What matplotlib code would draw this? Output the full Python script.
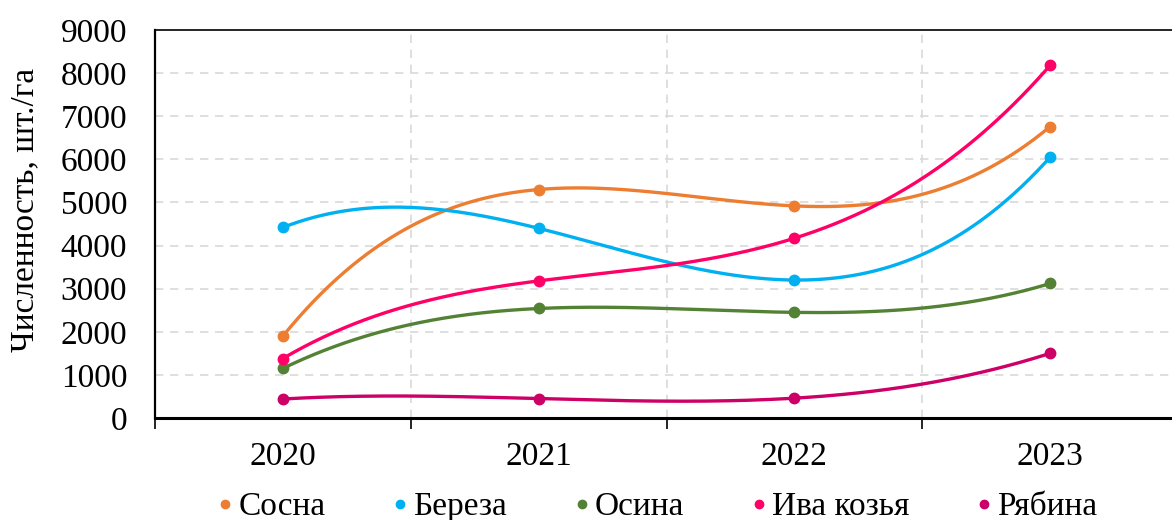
import numpy as np
from matplotlib import pyplot as plt
from matplotlib.lines import Line2D

plt.rcParams['font.family'] = ['Liberation Serif', 'DejaVu Serif']

years = ['2020', '2021', '2022', '2023']
names = ['Сосна', 'Береза', 'Осина', 'Ива козья', 'Рябина']
sosna = [1900, 5300, 4920, 6760]
bereza = [4420, 4400, 3200, 6050]
osina = [1150, 2540, 2450, 3120]
iva = [1380, 3180, 4170, 8180]
ryabina = [440, 450, 460, 1500]
series = [sosna, bereza, osina, iva, ryabina]
colors = ['#ED7D31', '#00B0F0', '#548235', '#FF0066', '#CC0066']

FS = 24

fig = plt.figure(figsize=(11.72, 5.2), dpi=100)
ax = fig.add_axes([155 / 1172, 102 / 520, 1023 / 1172, 388 / 520])

x = np.arange(len(years))
xs = np.linspace(0, len(years) - 1, 300)
for vals, c in zip(series, colors):
    # smooth curve through the points (cubic fit through 4 points)
    coef = np.polyfit(x, vals, 3)
    ax.plot(xs, np.polyval(coef, xs), color=c, lw=2.4, zorder=3)
    ax.plot(x, vals, 'o', color=c, ms=7.5, zorder=4)

ax.set_xlim(-0.5, 3.5)
ax.set_ylim(0, 9000)
ax.set_yticks(np.arange(0, 9001, 1000))
ax.tick_params(axis='y', length=0, pad=20, labelsize=FS)

ax.set_xticks(np.arange(-0.5, 3.6, 1))
ax.set_xticklabels([])
ax.set_xticks(x, minor=True)
ax.set_xticklabels(years, minor=True)
ax.tick_params(axis='x', which='major', length=8, width=1.2, direction='out')
ax.tick_params(axis='x', which='minor', length=0, pad=17, labelsize=FS)

ax.grid(True, which='major', color='#d9d9d9', ls=(0, (5, 4)), lw=1.2)
for g in ax.get_ygridlines()[-1:]:
    g.set_visible(False)

ax.spines['left'].set_linewidth(1.6)
ax.spines['bottom'].set_linewidth(2.2)
ax.spines['top'].set_linewidth(1.2)
ax.spines['right'].set_visible(False)

fig.text(25 / 1172, 1 - 210 / 520, 'Численность, шт./га', rotation=90,
         fontsize=FS, ha='center', va='center')

handles = [Line2D([], [], marker='o', ls='none', color=c, ms=6) for c in colors]
fig.legend(handles, names, loc='center', bbox_to_anchor=(657 / 1172, 1 - 507 / 520),
           ncol=5, frameon=False, fontsize=FS, handlelength=0.5,
           handletextpad=0.15, columnspacing=1.98, borderpad=0)

fig.savefig('out.png', dpi=100)
